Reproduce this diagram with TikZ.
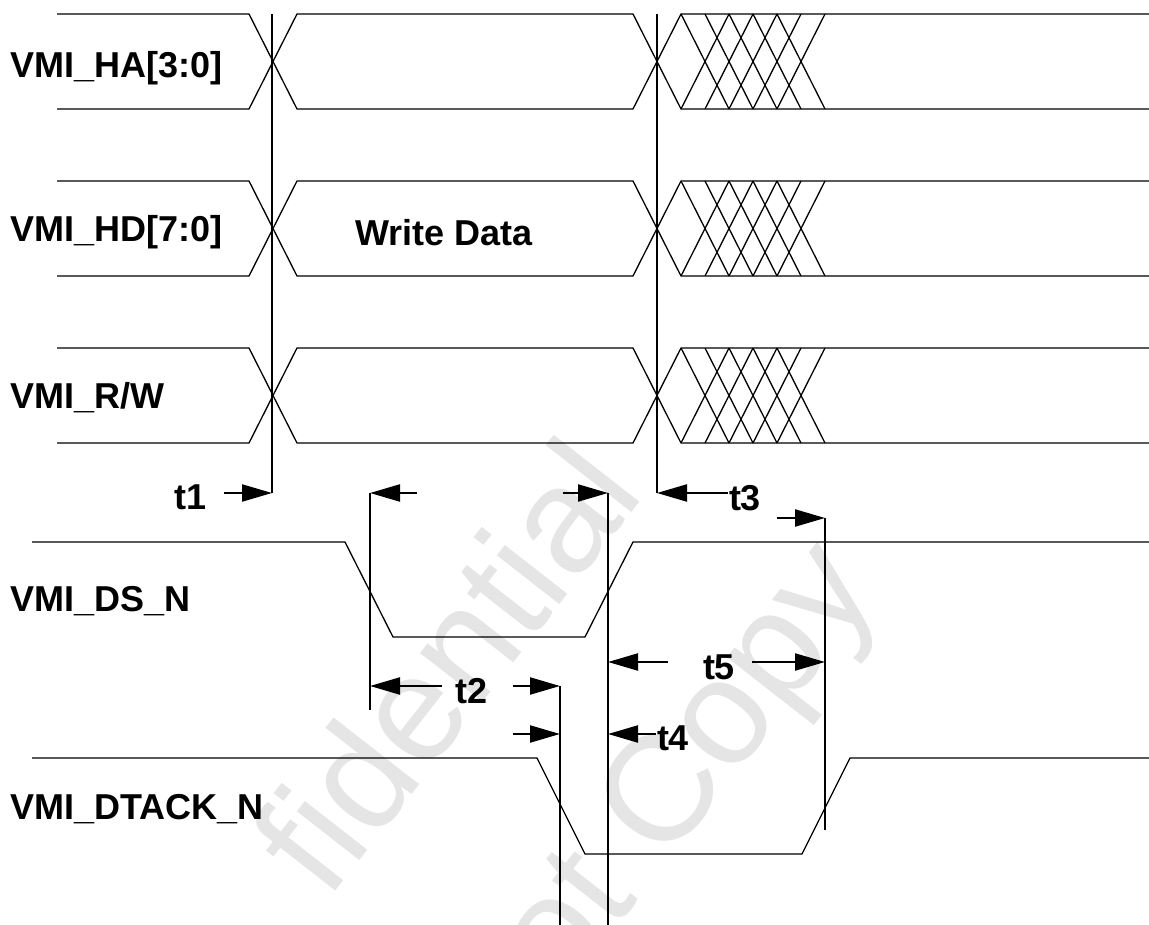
\documentclass[tikz,border=0pt]{standalone}
\usepackage{fontspec}
\setmainfont{Liberation Sans}
\usetikzlibrary{arrows.meta}
\begin{document}
\begin{tikzpicture}[x=1pt,y=-1pt,
  sig/.style={line width=1.3pt,line join=miter},
  marker/.style={line width=2.6pt},
  arr/.style={line width=2.2pt,-{Triangle[length=30pt,width=17pt]}},
  lbl/.style={font=\fontsize{36}{40}\selectfont\bfseries,inner sep=0pt},
  tlbl/.style={font=\fontsize{36}{40}\selectfont\bfseries,inner sep=0pt},
  wm/.style={font=\fontsize{150}{160}\selectfont,text=black!10,inner sep=0pt,rotate=52}]
\useasboundingbox (0,0) rectangle (1149,925);
% watermark
\begin{scope}
\clip (0,0) rectangle (1149,925);
\node[wm,anchor=base west] (wm1) at (528,645) {\llap{fiden}tial};
\node[wm,anchor=base west] (wm2) at (665,866) {\llap{Not }Copy};
\end{scope}
% bus rows
\foreach \rt in {14,181,348} {
  \pgfmathsetmacro\rb{\rt+95}
  \draw[sig] (57,\rt) -- (249,\rt) -- (297,\rb) -- (633,\rb) -- (681,\rt) -- (1149,\rt);
  \draw[sig] (57,\rb) -- (249,\rb) -- (297,\rt) -- (633,\rt) -- (681,\rb) -- (1149,\rb);
  \foreach \s in {681,705,729,753,777}
    \draw[sig] (\s,\rt) -- ({\s+48},\rb) (\s,\rb) -- ({\s+48},\rt);
}
% DS and DTACK
\draw[sig] (32,542) -- (345,542) -- (393,637) -- (585,637) -- (633,542) -- (1149,542);
\draw[sig] (32,758) -- (537,758) -- (585,854) -- (802,854) -- (850,758) -- (1149,758);
% labels
\node[lbl,anchor=west] (lha) at (10,68) {VMI\_HA[3:0]};
\node[lbl,anchor=west] (lhd) at (10,232) {VMI\_HD[7:0]};
\node[lbl] (wd) at (444,233) {Write Data};
\node[lbl,anchor=west] (lrw) at (10,398) {VMI\_R/W};
\node[lbl,anchor=west] (lds) at (10,601) {VMI\_DS\_N};
\node[lbl,anchor=west] (ldt) at (10,809) {VMI\_DTACK\_N};
% coordinates for markers
\coordinate (m1t) at (272,14);   \coordinate (m1b) at (272,493);
\coordinate (m2t) at (657,14);   \coordinate (m2b) at (657,493);
\coordinate (m3t) at (370,493);  \coordinate (m3b) at (370,710);
\coordinate (m4t) at (608,493);  \coordinate (m4b) at (608,925);
\coordinate (m5t) at (560,686);  \coordinate (m5b) at (560,925);
\coordinate (m6t) at (825,518);  \coordinate (m6b) at (825,830);
\draw[marker] (m1t) -- (m1b);
\draw[marker] (m2t) -- (m2b);
\draw[marker] (m3t) -- (m3b);
\draw[marker] (m4t) -- (m4b);
\draw[marker] (m5t) -- (m5b);
\draw[marker] (m6t) -- (m6b);
% timing labels
\node[tlbl] (t1) at (191,497) {t1};
\node[tlbl] (t2) at (472,691) {t2};
\node[tlbl] (t3) at (745,498) {t3};
\node[tlbl] (t4) at (673,738) {t4};
\node[tlbl] (t5) at (719,667) {t5};
% arrow tails
\coordinate (a1) at (224,493);
\coordinate (a2) at (417,493);
\coordinate (a3) at (563,493);
\coordinate (a4) at (728,493);
\coordinate (a5) at (777,518);
\coordinate (a6) at (668,662);
\coordinate (a7) at (752,662);
\coordinate (a8) at (442,686);
\coordinate (a9) at (513,686);
\coordinate (a10) at (513,734);
\coordinate (a11) at (656,734);
\draw[arr] (a1) -- (m1b);
\draw[arr] (a2) -- (m3t);
\draw[arr] (a3) -- (m4t);
\draw[arr] (a4) -- (m2b);
\draw[arr] (a5) -- (m6t);
\draw[arr] (a6) -- (608,662);
\draw[arr] (a7) -- (825,662);
\draw[arr] (a8) -- (370,686);
\draw[arr] (a9) -- (m5t);
\draw[arr] (a10) -- (560,734);
\draw[arr] (a11) -- (608,734);
\end{tikzpicture}
\end{document}
